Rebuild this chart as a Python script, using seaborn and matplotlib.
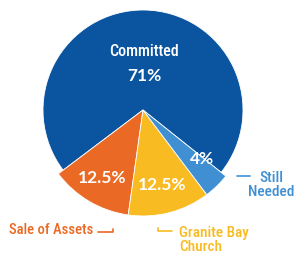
import matplotlib
matplotlib.use("Agg")
import matplotlib.pyplot as plt
import seaborn as sns

labels = ["Sale of Assets", "Granite Bay Church", "Still Needed", "Committed"]
values = [12.5, 12.5, 4, 71]
pct_text = ["12.5%", "12.5%", "4%", "71%"]
colors = ["#ea6a25", "#f8bb22", "#3f8fd2", "#0b55a0"]

sns.set_theme(style="white")
cond = ['Roboto Condensed', 'Roboto', 'DejaVu Sans']
bold = ['Lato', 'DejaVu Sans']
plt.rcParams['font.family'] = cond
palette = sns.color_palette(colors)

W, H = 300, 265
fig = plt.figure(figsize=(3.0, 2.65), dpi=100)
ax = fig.add_axes([0, 0, 1, 1])

def Y(py):
    return H - py

wedges, _ = ax.pie(values, colors=palette, startangle=217, counterclock=True,
                   center=(143, Y(110)), radius=100,
                   wedgeprops=dict(linewidth=0.6, edgecolor="white"))
for w, v in zip(wedges, values):
    if v < 50:
        w.set_radius(106)
wedges[3].set_zorder(1)
for w in wedges[:3]:
    w.set_zorder(2)

ax.set_xlim(0, W)
ax.set_ylim(0, H)
ax.set_aspect("equal")
ax.axis("off")

# inside labels
ax.text(144, Y(52), labels[3], color="white", fontsize=11.5, family=cond,
        weight="medium", ha="center", va="center", zorder=5)
ax.text(144, Y(76), pct_text[3], color="white", fontsize=12.5, family=bold,
        weight="bold", ha="center", va="center", zorder=5)
ax.text(102, Y(178), pct_text[0], color="white", fontsize=12.5, family=bold,
        weight="bold", ha="center", va="center", zorder=5)
ax.text(162, Y(185), pct_text[1], color="white", fontsize=12.5, family=bold,
        weight="bold", ha="center", va="center", zorder=5)
ax.text(202, Y(159), pct_text[2], color="white", fontsize=12.5, family=bold,
        weight="bold", ha="center", va="center", zorder=5)

# outside labels
ax.text(93, Y(230), labels[0], color=colors[0], fontsize=10.5, family=cond,
        weight="medium", ha="right", va="center")
ax.plot([98, 113, 113], [Y(232), Y(232), Y(229)], color=colors[0], lw=1.2)

ax.text(179, Y(240), "Granite Bay\nChurch", color=colors[1], fontsize=11,
        family=cond, weight="medium", ha="left", va="center", linespacing=1.0)
ax.plot([158, 158, 172], [Y(228), Y(231), Y(231)], color=colors[1], lw=1.2)

ax.text(271, Y(185), "Still\nNeeded", color=colors[2], fontsize=11,
        family=cond, weight="medium", ha="center", va="center", linespacing=1.0)
ax.plot([237, 250], [Y(176), Y(176)], color=colors[2], lw=1.2)

fig.savefig("out.png", dpi=100)
